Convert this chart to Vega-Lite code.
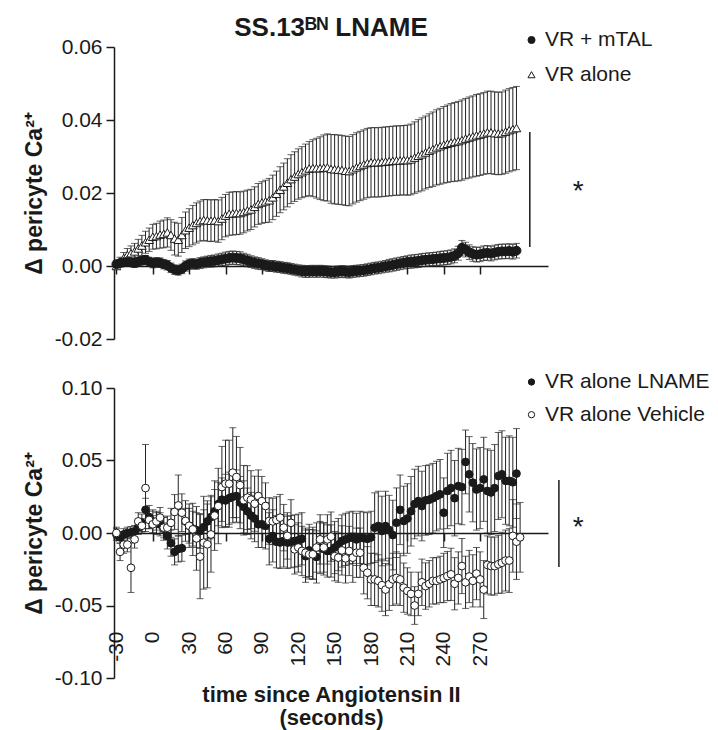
{
  "$schema": "https://vega.github.io/schema/vega-lite/v6.json",
  "background": "white",
  "padding": {"left": 23, "top": 14, "right": 5, "bottom": 5},
  "config": {
    "view": {"stroke": null},
    "font": "Liberation Sans",
    "axis": {"grid": false, "domainColor": "#1a1a1a", "tickColor": "#1a1a1a", "labelColor": "#1a1a1a", "titleColor": "#1a1a1a", "labelFont": "Liberation Sans", "titleFont": "Liberation Sans", "labelFontSize": 21, "titleFontSize": 23, "titleFontWeight": "bold", "tickSize": 8, "domainWidth": 1.5, "tickWidth": 1.5, "labelPadding": 4},
    "legend": {"labelFont": "Liberation Sans", "labelFontSize": 21, "labelColor": "#1a1a1a", "padding": 0, "labelLimit": 300}
  },
  "datasets": {
    "mtal": [
      {"t":-30,"m":0.0005,"e":0.0010},{"t":-27,"m":0.0008,"e":0.0010},{"t":-24,"m":0.0010,"e":0.0011},{"t":-21,"m":0.0012,"e":0.0011},{"t":-18,"m":0.0010,"e":0.0011},{"t":-15,"m":0.0008,"e":0.0012},{"t":-12,"m":0.0012,"e":0.0012},{"t":-9,"m":0.0015,"e":0.0012},{"t":-6,"m":0.0017,"e":0.0012},{"t":-3,"m":0.0012,"e":0.0012},
      {"t":0,"m":0.0008,"e":0.0013},{"t":3,"m":0.0010,"e":0.0013},{"t":6,"m":0.0009,"e":0.0013},{"t":9,"m":0.0005,"e":0.0013},{"t":12,"m":0.0002,"e":0.0013},{"t":15,"m":-0.0005,"e":0.0013},{"t":18,"m":-0.0010,"e":0.0013},{"t":21,"m":-0.0012,"e":0.0013},{"t":24,"m":-0.0008,"e":0.0013},{"t":27,"m":0.0000,"e":0.0014},
      {"t":30,"m":0.0005,"e":0.0014},{"t":33,"m":0.0006,"e":0.0014},{"t":36,"m":0.0005,"e":0.0014},{"t":39,"m":0.0008,"e":0.0015},{"t":42,"m":0.0010,"e":0.0015},{"t":45,"m":0.0012,"e":0.0015},{"t":48,"m":0.0013,"e":0.0016},{"t":51,"m":0.0014,"e":0.0016},{"t":54,"m":0.0016,"e":0.0017},{"t":57,"m":0.0018,"e":0.0017},
      {"t":60,"m":0.0020,"e":0.0018},{"t":63,"m":0.0022,"e":0.0018},{"t":66,"m":0.0023,"e":0.0018},{"t":69,"m":0.0022,"e":0.0018},{"t":72,"m":0.0021,"e":0.0018},{"t":75,"m":0.0018,"e":0.0017},{"t":78,"m":0.0015,"e":0.0017},{"t":81,"m":0.0012,"e":0.0016},{"t":84,"m":0.0009,"e":0.0016},{"t":87,"m":0.0007,"e":0.0016},
      {"t":90,"m":0.0005,"e":0.0015},{"t":93,"m":0.0002,"e":0.0015},{"t":96,"m":0.0000,"e":0.0015},{"t":99,"m":0.0000,"e":0.0015},{"t":102,"m":-0.0002,"e":0.0015},{"t":105,"m":-0.0003,"e":0.0015},{"t":108,"m":-0.0005,"e":0.0015},{"t":111,"m":-0.0006,"e":0.0015},{"t":114,"m":-0.0008,"e":0.0015},{"t":117,"m":-0.0010,"e":0.0015},
      {"t":120,"m":-0.0012,"e":0.0015},{"t":123,"m":-0.0014,"e":0.0016},{"t":126,"m":-0.0015,"e":0.0016},{"t":129,"m":-0.0015,"e":0.0016},{"t":132,"m":-0.0014,"e":0.0016},{"t":135,"m":-0.0015,"e":0.0016},{"t":138,"m":-0.0014,"e":0.0016},{"t":141,"m":-0.0015,"e":0.0016},{"t":144,"m":-0.0016,"e":0.0016},{"t":147,"m":-0.0017,"e":0.0016},
      {"t":150,"m":-0.0017,"e":0.0016},{"t":153,"m":-0.0016,"e":0.0016},{"t":156,"m":-0.0015,"e":0.0016},{"t":159,"m":-0.0016,"e":0.0016},{"t":162,"m":-0.0017,"e":0.0016},{"t":165,"m":-0.0015,"e":0.0016},{"t":168,"m":-0.0014,"e":0.0016},{"t":171,"m":-0.0013,"e":0.0016},{"t":174,"m":-0.0012,"e":0.0016},{"t":177,"m":-0.0010,"e":0.0016},
      {"t":180,"m":-0.0008,"e":0.0016},{"t":183,"m":-0.0006,"e":0.0016},{"t":186,"m":-0.0005,"e":0.0016},{"t":189,"m":-0.0003,"e":0.0016},{"t":192,"m":-0.0001,"e":0.0016},{"t":195,"m":0.0001,"e":0.0017},{"t":198,"m":0.0003,"e":0.0017},{"t":201,"m":0.0005,"e":0.0017},{"t":204,"m":0.0007,"e":0.0017},{"t":207,"m":0.0009,"e":0.0017},
      {"t":210,"m":0.0011,"e":0.0017},{"t":213,"m":0.0012,"e":0.0018},{"t":216,"m":0.0013,"e":0.0018},{"t":219,"m":0.0014,"e":0.0018},{"t":222,"m":0.0016,"e":0.0018},{"t":225,"m":0.0017,"e":0.0018},{"t":228,"m":0.0018,"e":0.0018},{"t":231,"m":0.0019,"e":0.0018},{"t":234,"m":0.0020,"e":0.0018},{"t":237,"m":0.0021,"e":0.0019},
      {"t":240,"m":0.0022,"e":0.0019},{"t":243,"m":0.0023,"e":0.0019},{"t":246,"m":0.0025,"e":0.0019},{"t":249,"m":0.0028,"e":0.0019},{"t":252,"m":0.0035,"e":0.0019},{"t":255,"m":0.0050,"e":0.0020},{"t":258,"m":0.0045,"e":0.0020},{"t":261,"m":0.0038,"e":0.0020},{"t":264,"m":0.0033,"e":0.0020},{"t":267,"m":0.0031,"e":0.0020},
      {"t":270,"m":0.0032,"e":0.0020},{"t":273,"m":0.0035,"e":0.0020},{"t":276,"m":0.0036,"e":0.0020},{"t":279,"m":0.0034,"e":0.0020},{"t":282,"m":0.0037,"e":0.0020},{"t":285,"m":0.0039,"e":0.0020},{"t":288,"m":0.0040,"e":0.0020},{"t":291,"m":0.0040,"e":0.0020},{"t":294,"m":0.0041,"e":0.0020},{"t":297,"m":0.0039,"e":0.0020},
      {"t":300,"m":0.0042,"e":0.0020}
    ],
    "alone": [
      {"t":-30,"m":0.0000,"e":0.0005},{"t":-27,"m":0.0012,"e":0.0012},{"t":-24,"m":0.0022,"e":0.0015},{"t":-21,"m":0.0030,"e":0.0018},{"t":-18,"m":0.0035,"e":0.0020},{"t":-15,"m":0.0040,"e":0.0022},{"t":-12,"m":0.0048,"e":0.0025},{"t":-9,"m":0.0056,"e":0.0028},{"t":-6,"m":0.0065,"e":0.0030},{"t":-3,"m":0.0072,"e":0.0032},
      {"t":0,"m":0.0080,"e":0.0034},{"t":3,"m":0.0082,"e":0.0035},{"t":6,"m":0.0086,"e":0.0037},{"t":9,"m":0.0088,"e":0.0038},{"t":12,"m":0.0092,"e":0.0040},{"t":15,"m":0.0085,"e":0.0042},{"t":18,"m":0.0075,"e":0.0045},{"t":21,"m":0.0072,"e":0.0045},{"t":24,"m":0.0085,"e":0.0048},{"t":27,"m":0.0098,"e":0.0050},
      {"t":30,"m":0.0105,"e":0.0052},{"t":33,"m":0.0112,"e":0.0054},{"t":36,"m":0.0118,"e":0.0055},{"t":39,"m":0.0123,"e":0.0055},{"t":42,"m":0.0126,"e":0.0056},{"t":45,"m":0.0125,"e":0.0057},{"t":48,"m":0.0124,"e":0.0057},{"t":51,"m":0.0125,"e":0.0057},{"t":54,"m":0.0123,"e":0.0058},{"t":57,"m":0.0130,"e":0.0058},
      {"t":60,"m":0.0138,"e":0.0058},{"t":63,"m":0.0143,"e":0.0059},{"t":66,"m":0.0144,"e":0.0059},{"t":69,"m":0.0145,"e":0.0059},{"t":72,"m":0.0145,"e":0.0058},{"t":75,"m":0.0148,"e":0.0057},{"t":78,"m":0.0152,"e":0.0056},{"t":81,"m":0.0155,"e":0.0055},{"t":84,"m":0.0162,"e":0.0055},{"t":87,"m":0.0170,"e":0.0056},
      {"t":90,"m":0.0174,"e":0.0057},{"t":93,"m":0.0177,"e":0.0058},{"t":96,"m":0.0180,"e":0.0060},{"t":99,"m":0.0188,"e":0.0061},{"t":102,"m":0.0198,"e":0.0062},{"t":105,"m":0.0209,"e":0.0063},{"t":108,"m":0.0218,"e":0.0064},{"t":111,"m":0.0228,"e":0.0066},{"t":114,"m":0.0238,"e":0.0067},{"t":117,"m":0.0245,"e":0.0068},
      {"t":120,"m":0.0252,"e":0.0069},{"t":123,"m":0.0257,"e":0.0070},{"t":126,"m":0.0262,"e":0.0072},{"t":129,"m":0.0267,"e":0.0074},{"t":132,"m":0.0268,"e":0.0078},{"t":135,"m":0.0268,"e":0.0082},{"t":138,"m":0.0268,"e":0.0086},{"t":141,"m":0.0269,"e":0.0090},{"t":144,"m":0.0270,"e":0.0092},{"t":147,"m":0.0266,"e":0.0094},
      {"t":150,"m":0.0265,"e":0.0095},{"t":153,"m":0.0264,"e":0.0095},{"t":156,"m":0.0263,"e":0.0095},{"t":159,"m":0.0261,"e":0.0095},{"t":162,"m":0.0260,"e":0.0095},{"t":165,"m":0.0265,"e":0.0095},{"t":168,"m":0.0270,"e":0.0095},{"t":171,"m":0.0274,"e":0.0095},{"t":174,"m":0.0278,"e":0.0095},{"t":177,"m":0.0282,"e":0.0095},
      {"t":180,"m":0.0284,"e":0.0095},{"t":183,"m":0.0284,"e":0.0095},{"t":186,"m":0.0284,"e":0.0095},{"t":189,"m":0.0285,"e":0.0095},{"t":192,"m":0.0286,"e":0.0095},{"t":195,"m":0.0287,"e":0.0095},{"t":198,"m":0.0288,"e":0.0095},{"t":201,"m":0.0289,"e":0.0095},{"t":204,"m":0.0289,"e":0.0095},{"t":207,"m":0.0290,"e":0.0095},
      {"t":210,"m":0.0290,"e":0.0096},{"t":213,"m":0.0292,"e":0.0097},{"t":216,"m":0.0297,"e":0.0098},{"t":219,"m":0.0302,"e":0.0099},{"t":222,"m":0.0306,"e":0.0100},{"t":225,"m":0.0311,"e":0.0100},{"t":228,"m":0.0316,"e":0.0101},{"t":231,"m":0.0320,"e":0.0102},{"t":234,"m":0.0325,"e":0.0103},{"t":237,"m":0.0328,"e":0.0104},
      {"t":240,"m":0.0332,"e":0.0105},{"t":243,"m":0.0335,"e":0.0106},{"t":246,"m":0.0338,"e":0.0107},{"t":249,"m":0.0340,"e":0.0108},{"t":252,"m":0.0342,"e":0.0109},{"t":255,"m":0.0345,"e":0.0110},{"t":258,"m":0.0349,"e":0.0110},{"t":261,"m":0.0352,"e":0.0111},{"t":264,"m":0.0355,"e":0.0111},{"t":267,"m":0.0358,"e":0.0112},
      {"t":270,"m":0.0360,"e":0.0112},{"t":273,"m":0.0363,"e":0.0112},{"t":276,"m":0.0366,"e":0.0113},{"t":279,"m":0.0366,"e":0.0113},{"t":282,"m":0.0364,"e":0.0113},{"t":285,"m":0.0363,"e":0.0113},{"t":288,"m":0.0364,"e":0.0113},{"t":291,"m":0.0368,"e":0.0114},{"t":294,"m":0.0372,"e":0.0114},{"t":297,"m":0.0375,"e":0.0114},
      {"t":300,"m":0.0378,"e":0.0114}
    ],
    "lname": [
      {"t":-30,"m":-0.001,"e":0.004},{"t":-27,"m":-0.003,"e":0.004},{"t":-24,"m":-0.001,"e":0.004},{"t":-21,"m":0.000,"e":0.004},{"t":-18,"m":0.0005,"e":0.004},{"t":-15,"m":0.0012,"e":0.004},{"t":-12,"m":0.004,"e":0.005},{"t":-9,"m":0.007,"e":0.006},{"t":-6,"m":0.016,"e":0.008},{"t":-3,"m":0.011,"e":0.008},
      {"t":0,"m":0.008,"e":0.008},{"t":3,"m":0.007,"e":0.008},{"t":6,"m":0.006,"e":0.008},{"t":9,"m":0.003,"e":0.008},{"t":12,"m":-0.002,"e":0.009},{"t":15,"m":-0.007,"e":0.009},{"t":18,"m":-0.013,"e":0.009},{"t":21,"m":-0.011,"e":0.009},{"t":24,"m":-0.0105,"e":0.009},{"t":27,"m":0.008,"e":0.009},
      {"t":30,"m":0.005,"e":0.012},{"t":33,"m":0.003,"e":0.012},{"t":36,"m":0.002,"e":0.012},{"t":39,"m":0.0014,"e":0.012},{"t":42,"m":0.004,"e":0.012},{"t":45,"m":0.008,"e":0.012},{"t":48,"m":0.011,"e":0.015},{"t":51,"m":0.015,"e":0.015},{"t":54,"m":0.020,"e":0.015},{"t":57,"m":0.023,"e":0.015},
      {"t":60,"m":0.0225,"e":0.018},{"t":63,"m":0.024,"e":0.018},{"t":66,"m":0.025,"e":0.018},{"t":69,"m":0.0255,"e":0.018},{"t":72,"m":0.021,"e":0.018},{"t":75,"m":0.018,"e":0.018},{"t":78,"m":0.015,"e":0.016},{"t":81,"m":0.012,"e":0.016},{"t":84,"m":0.010,"e":0.016},{"t":87,"m":0.006,"e":0.016},
      {"t":90,"m":0.006,"e":0.016},{"t":93,"m":0.005,"e":0.016},{"t":96,"m":-0.004,"e":0.018},{"t":99,"m":-0.002,"e":0.018},{"t":102,"m":-0.006,"e":0.018},{"t":105,"m":-0.0065,"e":0.018},{"t":108,"m":-0.0055,"e":0.018},{"t":111,"m":-0.0065,"e":0.018},{"t":114,"m":-0.006,"e":0.018},{"t":117,"m":-0.0055,"e":0.018},
      {"t":120,"m":-0.005,"e":0.018},{"t":123,"m":-0.004,"e":0.018},{"t":126,"m":-0.016,"e":0.018},{"t":129,"m":-0.012,"e":0.018},{"t":132,"m":-0.014,"e":0.018},{"t":135,"m":-0.0165,"e":0.018},{"t":138,"m":-0.010,"e":0.018},{"t":141,"m":-0.011,"e":0.018},{"t":144,"m":-0.0124,"e":0.018},{"t":147,"m":-0.0124,"e":0.018},
      {"t":150,"m":-0.010,"e":0.018},{"t":153,"m":-0.008,"e":0.018},{"t":156,"m":-0.0055,"e":0.018},{"t":159,"m":-0.0044,"e":0.018},{"t":162,"m":-0.0035,"e":0.018},{"t":165,"m":-0.003,"e":0.018},{"t":168,"m":-0.0044,"e":0.018},{"t":171,"m":-0.003,"e":0.018},{"t":174,"m":-0.0035,"e":0.018},{"t":177,"m":-0.004,"e":0.018},
      {"t":180,"m":-0.003,"e":0.018},{"t":183,"m":0.0037,"e":0.024},{"t":186,"m":0.0048,"e":0.024},{"t":189,"m":0.0014,"e":0.024},{"t":192,"m":0.0048,"e":0.024},{"t":195,"m":0.002,"e":0.024},{"t":198,"m":-0.0014,"e":0.024},{"t":201,"m":0.0071,"e":0.024},{"t":204,"m":0.016,"e":0.024},{"t":207,"m":0.0083,"e":0.024},
      {"t":210,"m":0.010,"e":0.024},{"t":213,"m":0.015,"e":0.024},{"t":216,"m":0.020,"e":0.024},{"t":219,"m":0.022,"e":0.024},{"t":222,"m":0.0186,"e":0.024},{"t":225,"m":0.0225,"e":0.024},{"t":228,"m":0.023,"e":0.024},{"t":231,"m":0.024,"e":0.024},{"t":234,"m":0.0255,"e":0.024},{"t":237,"m":0.0267,"e":0.024},
      {"t":240,"m":0.014,"e":0.024},{"t":243,"m":0.029,"e":0.026},{"t":246,"m":0.031,"e":0.026},{"t":249,"m":0.024,"e":0.026},{"t":252,"m":0.0324,"e":0.026},{"t":255,"m":0.0317,"e":0.026},{"t":258,"m":0.049,"e":0.022},{"t":261,"m":0.0405,"e":0.026},{"t":264,"m":0.0347,"e":0.027},{"t":267,"m":0.030,"e":0.028},
      {"t":270,"m":0.031,"e":0.028},{"t":273,"m":0.037,"e":0.029},{"t":276,"m":0.029,"e":0.029},{"t":279,"m":0.028,"e":0.029},{"t":282,"m":0.031,"e":0.030},{"t":285,"m":0.0393,"e":0.030},{"t":288,"m":0.0405,"e":0.030},{"t":291,"m":0.036,"e":0.030},{"t":294,"m":0.036,"e":0.031},{"t":297,"m":0.035,"e":0.031},
      {"t":300,"m":0.041,"e":0.031}
    ],
    "vehicle": [
      {"t":-30,"m":0.000,"e":0.004},{"t":-27,"m":-0.013,"e":0.006},{"t":-24,"m":-0.008,"e":0.006},{"t":-21,"m":-0.008,"e":0.005},{"t":-18,"m":-0.024,"e":0.017},{"t":-15,"m":-0.0044,"e":0.006},{"t":-12,"m":0.008,"e":0.006},{"t":-9,"m":0.005,"e":0.005},{"t":-6,"m":0.031,"e":0.030},{"t":-3,"m":0.009,"e":0.006},
      {"t":0,"m":0.006,"e":0.006},{"t":3,"m":0.008,"e":0.006},{"t":6,"m":0.0106,"e":0.007},{"t":9,"m":0.0037,"e":0.007},{"t":12,"m":0.0037,"e":0.008},{"t":15,"m":0.007,"e":0.010},{"t":18,"m":0.0145,"e":0.012},{"t":21,"m":0.019,"e":0.021},{"t":24,"m":0.014,"e":0.013},{"t":27,"m":0.0083,"e":0.014},
      {"t":30,"m":0.005,"e":0.015},{"t":33,"m":0.0025,"e":0.018},{"t":36,"m":-0.0037,"e":0.022},{"t":39,"m":-0.0163,"e":0.029},{"t":42,"m":-0.0067,"e":0.032},{"t":45,"m":-0.0078,"e":0.030},{"t":48,"m":-0.001,"e":0.026},{"t":51,"m":0.012,"e":0.024},{"t":54,"m":0.0186,"e":0.026},{"t":57,"m":0.0317,"e":0.028},
      {"t":60,"m":0.034,"e":0.030},{"t":63,"m":0.034,"e":0.030},{"t":66,"m":0.0416,"e":0.031},{"t":69,"m":0.0386,"e":0.028},{"t":72,"m":0.033,"e":0.026},{"t":75,"m":0.0226,"e":0.024},{"t":78,"m":0.0244,"e":0.022},{"t":81,"m":0.023,"e":0.020},{"t":84,"m":0.0202,"e":0.019},{"t":87,"m":0.0255,"e":0.018},
      {"t":90,"m":0.022,"e":0.017},{"t":93,"m":0.0186,"e":0.016},{"t":96,"m":0.0083,"e":0.016},{"t":99,"m":0.008,"e":0.016},{"t":102,"m":0.009,"e":0.016},{"t":105,"m":0.0106,"e":0.016},{"t":108,"m":0.0037,"e":0.016},{"t":111,"m":-0.002,"e":0.016},{"t":114,"m":0.007,"e":0.016},{"t":117,"m":-0.0113,"e":0.017},
      {"t":120,"m":-0.010,"e":0.017},{"t":123,"m":-0.0124,"e":0.017},{"t":126,"m":-0.0136,"e":0.017},{"t":129,"m":-0.0147,"e":0.017},{"t":132,"m":-0.0147,"e":0.017},{"t":135,"m":-0.010,"e":0.017},{"t":138,"m":-0.0044,"e":0.017},{"t":141,"m":-0.010,"e":0.017},{"t":144,"m":-0.0044,"e":0.017},{"t":147,"m":-0.0025,"e":0.017},
      {"t":150,"m":-0.016,"e":0.017},{"t":153,"m":-0.017,"e":0.017},{"t":156,"m":-0.012,"e":0.017},{"t":159,"m":-0.0175,"e":0.017},{"t":162,"m":-0.0124,"e":0.017},{"t":165,"m":-0.017,"e":0.017},{"t":168,"m":-0.0136,"e":0.017},{"t":171,"m":-0.0136,"e":0.017},{"t":174,"m":-0.024,"e":0.018},{"t":177,"m":-0.0274,"e":0.018},
      {"t":180,"m":-0.032,"e":0.018},{"t":183,"m":-0.032,"e":0.018},{"t":186,"m":-0.033,"e":0.018},{"t":189,"m":-0.036,"e":0.018},{"t":192,"m":-0.039,"e":0.018},{"t":195,"m":-0.0354,"e":0.018},{"t":198,"m":-0.032,"e":0.018},{"t":201,"m":-0.031,"e":0.018},{"t":204,"m":-0.032,"e":0.018},{"t":207,"m":-0.0377,"e":0.017},
      {"t":210,"m":-0.040,"e":0.016},{"t":213,"m":-0.042,"e":0.015},{"t":216,"m":-0.050,"e":0.013},{"t":219,"m":-0.042,"e":0.015},{"t":222,"m":-0.034,"e":0.016},{"t":225,"m":-0.0366,"e":0.016},{"t":228,"m":-0.035,"e":0.016},{"t":231,"m":-0.033,"e":0.016},{"t":234,"m":-0.033,"e":0.016},{"t":237,"m":-0.032,"e":0.016},
      {"t":240,"m":-0.031,"e":0.017},{"t":243,"m":-0.0297,"e":0.017},{"t":246,"m":-0.0285,"e":0.018},{"t":249,"m":-0.035,"e":0.018},{"t":252,"m":-0.031,"e":0.018},{"t":255,"m":-0.0228,"e":0.019},{"t":258,"m":-0.034,"e":0.018},{"t":261,"m":-0.030,"e":0.018},{"t":264,"m":-0.033,"e":0.018},{"t":267,"m":-0.028,"e":0.018},
      {"t":270,"m":-0.032,"e":0.019},{"t":273,"m":-0.039,"e":0.020},{"t":276,"m":-0.022,"e":0.020},{"t":279,"m":-0.0228,"e":0.020},{"t":282,"m":-0.0228,"e":0.020},{"t":285,"m":-0.0216,"e":0.020},{"t":288,"m":-0.0205,"e":0.021},{"t":291,"m":-0.019,"e":0.021},{"t":294,"m":-0.019,"e":0.022},{"t":297,"m":-0.002,"e":0.025},
      {"t":300,"m":-0.006,"e":0.026},{"t":303,"m":-0.003,"e":0.024}
    ],
    "sigTop": [{"t": 311, "lo": 0.0052, "hi": 0.0367, "ts": 351, "ys": 0.0182, "label": "*"}],
    "sigBottom": [{"t": 335, "lo": -0.0234, "hi": 0.0366, "ts": 351, "ys": -0.002, "label": "*"}]
  },
  "spacing": 49,
  "bounds": "flush",
  "resolve": {"scale": {"shape": "independent", "fill": "independent", "stroke": "independent"}},
  "vconcat": [
    {
      "width": 434,
      "height": 292,
      "title": {"text": "SS.13ᴮᴺ LNAME", "fontSize": 26, "fontWeight": "bold", "anchor": "middle", "offset": -11, "color": "#1a1a1a", "font": "Liberation Sans"},
      "encoding": {
        "x": {"field": "t", "type": "quantitative", "scale": {"domain": [-32, 326], "nice": false, "zero": false},
              "axis": {"values": [-30, 0, 30, 60, 90, 120, 150, 180, 210, 240, 270], "labels": false, "offset": -73, "title": null}},
        "y": {"field": "m", "type": "quantitative", "scale": {"domain": [-0.02, 0.06], "nice": false, "zero": false},
              "axis": {"values": [-0.02, 0, 0.02, 0.04, 0.06], "format": ".2f", "labelExpr": "replace(datum.label, '−', '-')", "title": "Δ pericyte Ca²⁺", "titlePadding": 8}}
      },
      "layer": [
        {"data": {"name": "alone"}, "mark": {"type": "errorbar", "ticks": true, "size": 7, "thickness": 1, "color": "#222222"}, "encoding": {"yError": {"field": "e"}}},
        {"data": {"name": "mtal"}, "mark": {"type": "errorbar", "ticks": true, "size": 7, "thickness": 1, "color": "#222222"}, "encoding": {"yError": {"field": "e"}}},
        {"data": {"name": "alone"}, "mark": {"type": "point", "filled": true, "strokeWidth": 1, "size": 75, "opacity": 1},
         "encoding": {
           "shape": {"datum": "VR alone", "type": "nominal", "scale": {"domain": ["VR + mTAL", "VR alone"], "range": ["circle", "triangle-up"]},
                     "legend": {"orient": "none", "legendX": 407, "legendY": -17.5, "title": null, "symbolSize": 50, "symbolStrokeWidth": 1, "rowPadding": 12.7, "labelOffset": 3}},
           "fill": {"datum": "VR alone", "type": "nominal", "scale": {"domain": ["VR + mTAL", "VR alone"], "range": ["#1a1a1a", "white"]},
                     "legend": {"orient": "none", "legendX": 407, "legendY": -17.5, "title": null, "symbolSize": 50, "symbolStrokeWidth": 1, "rowPadding": 12.7, "labelOffset": 3}},
           "stroke": {"datum": "VR alone", "type": "nominal", "scale": {"domain": ["VR + mTAL", "VR alone"], "range": ["#1a1a1a", "#1a1a1a"]},
                     "legend": {"orient": "none", "legendX": 407, "legendY": -17.5, "title": null, "symbolSize": 50, "symbolStrokeWidth": 1, "rowPadding": 12.7, "labelOffset": 3}}
         }},
        {"data": {"name": "mtal"}, "mark": {"type": "point", "filled": true, "strokeWidth": 1, "size": 80, "opacity": 1},
         "encoding": {
           "shape": {"datum": "VR + mTAL", "type": "nominal"},
           "fill": {"datum": "VR + mTAL", "type": "nominal"},
           "stroke": {"datum": "VR + mTAL", "type": "nominal"}
         }},
        {"data": {"name": "sigTop"}, "mark": {"type": "rule", "color": "#1a1a1a", "strokeWidth": 1.5},
         "encoding": {"x": {"field": "t", "type": "quantitative"}, "y": {"field": "lo", "type": "quantitative"}, "y2": {"field": "hi"}}},
        {"data": {"name": "sigTop"}, "mark": {"type": "text", "fontSize": 28, "font": "Liberation Sans", "color": "#1a1a1a", "baseline": "alphabetic", "align": "center"},
         "encoding": {"x": {"field": "ts", "type": "quantitative"}, "y": {"field": "ys", "type": "quantitative"}, "text": {"field": "label"}}}
      ]
    },
    {
      "width": 434,
      "height": 290,
      "encoding": {
        "x": {"field": "t", "type": "quantitative", "scale": {"domain": [-32, 326], "nice": false, "zero": false},
              "axis": {"values": [-30, 0, 30, 60, 90, 120, 150, 180, 210, 240, 270], "labelAngle": 270, "labelAlign": "right", "labelBaseline": "middle", "labelPadding": 90, "labelExpr": "replace(datum.label, '−', '-')", "offset": -145,
                       "title": ["time since Angiotensin II", "(seconds)"], "titleFontSize": 22, "titleX": 217, "titleY": 168, "titleAlign": "center", "titleBaseline": "alphabetic", "titleLineHeight": 23}},
        "y": {"field": "m", "type": "quantitative", "scale": {"domain": [-0.1, 0.1], "nice": false, "zero": false},
              "axis": {"values": [-0.1, -0.05, 0, 0.05, 0.1], "format": ".2f", "labelExpr": "replace(datum.label, '−', '-')", "title": "Δ pericyte Ca²⁺", "titlePadding": 8}}
      },
      "layer": [
        {"data": {"name": "lname"}, "mark": {"type": "errorbar", "ticks": true, "size": 7, "thickness": 1, "color": "#222222"}, "encoding": {"yError": {"field": "e"}}},
        {"data": {"name": "vehicle"}, "mark": {"type": "errorbar", "ticks": true, "size": 7, "thickness": 1, "color": "#222222"}, "encoding": {"yError": {"field": "e"}}},
        {"data": {"name": "lname"}, "mark": {"type": "point", "filled": true, "strokeWidth": 1, "size": 60, "opacity": 1},
         "encoding": {
           "shape": {"datum": "VR alone LNAME", "type": "nominal", "scale": {"domain": ["VR alone LNAME", "VR alone Vehicle"], "range": ["circle", "circle"]},
                     "legend": {"orient": "none", "legendX": 407, "legendY": -16.5, "title": null, "symbolSize": 40, "symbolStrokeWidth": 1, "rowPadding": 10.7, "labelOffset": 3}},
           "fill": {"datum": "VR alone LNAME", "type": "nominal", "scale": {"domain": ["VR alone LNAME", "VR alone Vehicle"], "range": ["#1a1a1a", "white"]},
                     "legend": {"orient": "none", "legendX": 407, "legendY": -16.5, "title": null, "symbolSize": 40, "symbolStrokeWidth": 1, "rowPadding": 10.7, "labelOffset": 3}},
           "stroke": {"datum": "VR alone LNAME", "type": "nominal", "scale": {"domain": ["VR alone LNAME", "VR alone Vehicle"], "range": ["#1a1a1a", "#1a1a1a"]},
                     "legend": {"orient": "none", "legendX": 407, "legendY": -16.5, "title": null, "symbolSize": 40, "symbolStrokeWidth": 1, "rowPadding": 10.7, "labelOffset": 3}}
         }},
        {"data": {"name": "vehicle"}, "mark": {"type": "point", "filled": true, "strokeWidth": 1, "size": 60, "opacity": 1},
         "encoding": {
           "shape": {"datum": "VR alone Vehicle", "type": "nominal"},
           "fill": {"datum": "VR alone Vehicle", "type": "nominal"},
           "stroke": {"datum": "VR alone Vehicle", "type": "nominal"}
         }},
        {"data": {"name": "sigBottom"}, "mark": {"type": "rule", "color": "#1a1a1a", "strokeWidth": 1.5},
         "encoding": {"x": {"field": "t", "type": "quantitative"}, "y": {"field": "lo", "type": "quantitative"}, "y2": {"field": "hi"}}},
        {"data": {"name": "sigBottom"}, "mark": {"type": "text", "fontSize": 28, "font": "Liberation Sans", "color": "#1a1a1a", "baseline": "alphabetic", "align": "center"},
         "encoding": {"x": {"field": "ts", "type": "quantitative"}, "y": {"field": "ys", "type": "quantitative"}, "text": {"field": "label"}}}
      ]
    }
  ]
}
